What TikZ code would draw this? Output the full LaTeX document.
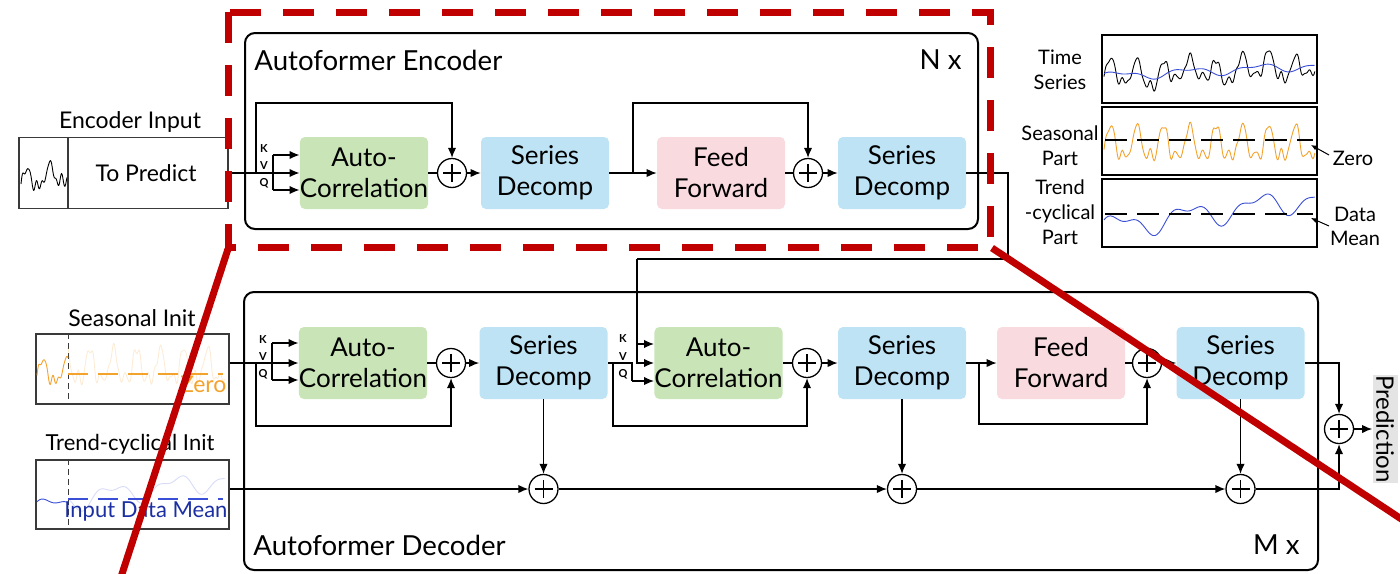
\documentclass[tikz,border=0pt]{standalone}
\usepackage{fontspec}
\setmainfont{Lato}
\usetikzlibrary{arrows.meta}
\definecolor{acgreen}{HTML}{C9E5B8}
\definecolor{sdblue}{HTML}{BDE3F5}
\definecolor{ffpink}{HTML}{F8DADF}
\definecolor{hlred}{HTML}{C00000}
\definecolor{seasorange}{HTML}{F3A22C}
\definecolor{trendblue}{HTML}{3A4FD6}
\definecolor{meanblue}{HTML}{1B2FA3}
\definecolor{predgray}{HTML}{E4E4E4}
\definecolor{boxgray}{HTML}{3A3A3A}
\begin{document}
\begin{tikzpicture}[x=0.5pt,y=-0.5pt,
  declare function={
    trendf(\t)=0.3*\t+0.1*sin(1080*\t+20)+0.05*sin(2300*\t+70)-0.15;
    seasf(\t)=0.55*sin(2880*\t)-0.25*cos(5760*\t)+0.1*sin(8640*\t+30);
    noisef(\t)=0.5*sin(9973*\t)+0.3*sin(13337*\t+40)+0.2*sin(7121*\t+10);
  },
  conn/.style={line width=0.65pt},
  arr/.style={conn,-{Latex[length=5pt,width=4.2pt]}},
  blk/.style={rounded corners=2.5pt, minimum width=64pt, minimum height=36pt,
    inner sep=0pt, align=center, font=\fontsize{13}{15.5}\selectfont},
  acblk/.style={blk, fill=acgreen},
  sdblk/.style={blk, fill=sdblue},
  ffblk/.style={blk, fill=ffpink},
  sumnode/.style={circle, draw, line width=0.65pt, minimum size=14.5pt, inner sep=0pt,
    path picture={
      \draw[line width=0.65pt] ([xshift=-4.5pt]path picture bounding box.center) -- ([xshift=4.5pt]path picture bounding box.center);
      \draw[line width=0.65pt] ([yshift=-4.5pt]path picture bounding box.center) -- ([yshift=4.5pt]path picture bounding box.center);}},
  frame/.style={draw, line width=1pt, rounded corners=5pt, inner sep=0pt},
  kvq/.style={inner sep=0pt, font=\fontsize{5.5}{6}\selectfont\bfseries},
  title/.style={inner sep=0pt, font=\fontsize{13.8}{16}\selectfont},
  lbl/.style={inner sep=0pt, align=center, font=\fontsize{11.5}{13}\selectfont},
  plbl/.style={inner sep=0pt, align=center, font=\fontsize{10}{12.4}\selectfont},
  inbox/.style={draw=boxgray, line width=0.6pt, inner sep=0pt},
  panelbox/.style={draw, line width=0.6pt, inner sep=0pt, minimum width=107.5pt, minimum height=34pt},
  refline/.style={line width=0.6pt, dash pattern=on 11pt off 5pt},
  initline/.style={line width=0.6pt, dash pattern=on 10pt off 5pt},
  series/.style={line width=0.45pt, line join=round},
  hl/.style={draw=hlred, line width=3.5pt}
]
\useasboundingbox (0,0) rectangle (1400,573);

% ---------------- Encoder ----------------
\node[frame, minimum width=366.5pt, minimum height=98pt] (encframe) at (611.5,131) {};
\node[title, anchor=west] at (254,60) {Autoformer Encoder};
\node[title, anchor=east] at (962,60) {N x};

\node[acblk] (eAC)  at (364,173) {Auto-\\Correlation};
\node[sumnode] (eP1) at (452,173) {};
\node[sdblk] (eSD1) at (545,173) {Series\\Decomp};
\node[ffblk] (eFF)  at (721,173) {Feed\\Forward};
\node[sumnode] (eP2) at (808,173) {};
\node[sdblk] (eSD2) at (902,173) {Series\\Decomp};

% encoder input
\node[inbox, minimum width=104.5pt, minimum height=35.5pt] (encin) at (123.5,173) {};
\draw[boxgray, line width=0.6pt] (encin.north -| 68,0) -- (encin.south -| 68,0);
\node[lbl] at (130,122) {Encoder Input};
\node[lbl] at (146,173) {To Predict};
\draw[series] plot[domain=0:0.25, samples=70, variable=\t]
  ({21+184*\t},{182-22*(0.8*seasf(\t)+0.3*noisef(\t)+0.4*\t/0.25)});

% K / V / Q fan-in
\coordinate (eK) at (273,155);
\coordinate (eQ) at (273,190);
\coordinate (eS1) at (256,173);
\draw[arr] (encin.east) -- (eAC.west);
\draw[conn] (eK) -- (eQ);
\draw[arr] (eK) -- (eK -| eAC.west);
\draw[arr] (eQ) -- (eQ -| eAC.west);
\node[kvq] at (264,149) {K};
\node[kvq] at (264,166) {V};
\node[kvq] at (264,183) {Q};

\draw[arr] (eS1) -- ++(0,-70) -| (eP1.north);
\draw[conn] (eAC.east) -- (eP1.west);
\draw[arr] (eP1.east) -- (eSD1.west);
\draw[arr] (eSD1.east) -- (eFF.west);
\coordinate (eS2) at (633,173);
\draw[arr] (eS2) -- ++(0,-70) -| (eP2.north);
\draw[conn] (eFF.east) -- (eP2.west);
\draw[arr] (eP2.east) -- (eSD2.west);

% ---------------- Decoder ----------------
\node[frame, minimum width=537pt, minimum height=139pt] (decframe) at (781,431) {};
\node[title, anchor=west] at (253,545) {Autoformer Decoder};
\node[title, anchor=east] at (1300,545) {M x};

\node[acblk] (dAC1) at (363,363) {Auto-\\Correlation};
\node[sumnode] (dP1) at (451,363) {};
\node[sdblk] (dSD1) at (543.5,363) {Series\\Decomp};
\node[acblk] (dAC2) at (718.5,363) {Auto-\\Correlation};
\node[sumnode] (dP2) at (807,363) {};
\node[sdblk] (dSD2) at (902,363) {Series\\Decomp};
\node[ffblk] (dFF)  at (1061,363) {Feed\\Forward};
\node[sumnode] (dP3) at (1147,363) {};
\node[sdblk] (dSD3) at (1240.5,363) {Series\\Decomp};
\node[sumnode] (outP) at (1339,429) {};
\node[sumnode] (tP1) at (543.5,489) {};
\node[sumnode] (tP2) at (902,489) {};
\node[sumnode] (tP3) at (1240.5,489) {};
\node[fill=predgray, rotate=-90, minimum width=53pt, minimum height=12.5pt, inner sep=0pt,
  font=\fontsize{12}{13}\selectfont] (pred) at (1385,429) {Prediction};

% seasonal init
\node[inbox, minimum width=96.5pt, minimum height=35pt] (sinit) at (132.5,369) {};
\node[lbl] at (132,318) {Seasonal Init};
\draw[boxgray, line width=0.5pt, dash pattern=on 3pt off 2pt] (sinit.north -| 68,0) -- (sinit.south -| 68,0);
\draw[series, seasorange] plot[domain=0:0.165, samples=50, variable=\t]
  ({37+188*\t},{373-24*(0.8*seasf(\t)+0.25*noisef(\t))});
\draw[series, seasorange, opacity=0.2] plot[domain=0.165:1, samples=200, variable=\t]
  ({37+188*\t},{368-30*(0.9*seasf(\t)+0.2*noisef(\t))});
\draw[initline, seasorange] (68,374) -- (223,374);
\node[inbox, anchor=south east, text=seasorange, font=\fontsize{11.5}{13}\selectfont, draw=none] at (227,393) {Zero};

% trend-cyclical init
\node[inbox, minimum width=96.5pt, minimum height=34.5pt] (tinit) at (132.5,494.5) {};
\node[lbl, font=\fontsize{11}{13}\selectfont] at (130,444) {Trend-cyclical Init};
\draw[boxgray, line width=0.5pt, dash pattern=on 3pt off 2pt] (tinit.north -| 68,0) -- (tinit.south -| 68,0);
\draw[series, trendblue] plot[domain=0:0.165, samples=40, variable=\t]
  ({37+188*\t},{497-70*trendf(\t)});
\draw[series, trendblue, opacity=0.2] plot[domain=0.165:1, samples=120, variable=\t]
  ({37+188*\t},{492-85*trendf(\t)});
\draw[initline, trendblue] (68,499) -- (223,499);
\node[inbox, anchor=south east, text=meanblue, font=\fontsize{11}{13}\selectfont, draw=none] at (228,522) {Input Data Mean};

% decoder connectors: first auto-correlation
\coordinate (dK1) at (272,343);
\coordinate (dQ1) at (272,380);
\coordinate (dS1) at (256,363);
\draw[arr] (sinit.east |- dAC1.west) -- (dAC1.west);
\draw[conn] (dK1) -- (dQ1);
\draw[arr] (dK1) -- (dK1 -| dAC1.west);
\draw[arr] (dQ1) -- (dQ1 -| dAC1.west);
\node[kvq] at (263,340) {K};
\node[kvq] at (263,357) {V};
\node[kvq] at (263,374) {Q};
\draw[arr] (dS1) -- ++(0,63) -| (dP1.south);
\draw[conn] (dAC1.east) -- (dP1.west);
\draw[arr] (dP1.east) -- (dSD1.west);

% encoder output feeds K and V of the cross auto-correlation
\coordinate (eDown) at (1008,259);
\coordinate (dKV) at (637,259);
\coordinate (dK2) at (637,344);
\coordinate (dQ2) at (632,381);
\coordinate (dS2) at (613,363);
\draw[conn] (eSD2.east) -| (eDown) -- (dKV);
\draw[arr] (dKV) |- (dAC2.west);
\draw[arr] (dK2) -- (dK2 -| dAC2.west);
\draw[conn] (dSD1.east) -| (dQ2);
\draw[arr] (dQ2) -- (dQ2 -| dAC2.west);
\node[kvq] at (623,339) {K};
\node[kvq] at (623,357) {V};
\node[kvq] at (623,374) {Q};
\draw[arr] (dS2) -- ++(0,63) -| (dP2.south);
\draw[conn] (dAC2.east) -- (dP2.west);
\draw[arr] (dP2.east) -- (dSD2.west);

% feed forward
\coordinate (dS3) at (979,363);
\draw[arr] (dSD2.east) -- (dFF.west);
\draw[arr] (dS3) -- ++(0,61) -| (dP3.south);
\draw[conn] (dFF.east) -- (dP3.west);
\draw[arr] (dP3.east) -- (dSD3.west);

% trend accumulation and output
\draw[arr] (dSD1.south) -- (tP1.north);
\draw[arr] (dSD2.south) -- (tP2.north);
\draw[arr] (dSD3.south) -- (tP3.north);
\draw[arr] (tinit.east |- tP1.west) -- (tP1.west);
\draw[arr] (tP1.east) -- (tP2.west);
\draw[arr] (tP2.east) -- (tP3.west);
\draw[arr] (tP3.east) -| (outP.south);
\draw[arr] (dSD3.east) -| (outP.north);
\draw[arr] (outP.east) -- (pred.south);

% ---------------- Decomposition legend ----------------
\node[panelbox] (tsbox) at (1209.5,69) {};
\node[panelbox] (seasbox) at (1209.5,141) {};
\node[panelbox] (trendbox) at (1209.5,213) {};
\node[plbl] at (1060,69.5) {Time\\Series};
\node[plbl] at (1060,145.5) {Seasonal\\Part};
\node[plbl] at (1060,212.5) {Trend\\-cyclical\\Part};
\draw[series] plot[domain=0:1, samples=220, variable=\t]
  ({1104+211*\t},{71-36*(trendf(\t)+0.55*seasf(\t)+0.1*noisef(\t))});
\draw[series, trendblue] plot[domain=0:1, samples=100, variable=\t]
  ({1104+211*\t},{71-36*trendf(\t)});
\draw[series, seasorange] plot[domain=0:1, samples=220, variable=\t]
  ({1104+211*\t},{145-32*(0.85*seasf(\t)+0.12*noisef(\t))});
\draw[refline] (1105,140) -- (1313,140);
\draw[series, trendblue] plot[domain=0:1, samples=100, variable=\t]
  ({1104+211*\t},{213-100*trendf(\t)});
\draw[refline] (1105,214) -- (1313,214);
\node[plbl] (zerolbl) at (1353,158) {Zero};
\node[plbl] (meanlbl) at (1355,226.5) {Data\\Mean};
\draw[line width=0.5pt, -{Latex[length=3pt,width=2.6pt]}] (1329,155) -- (1311,145);
\draw[line width=0.5pt, -{Latex[length=3pt,width=2.6pt]}] (1329,226) -- (1311,218);

% ---------------- Highlight ----------------
\draw[hl, dash pattern=on 15.5pt off 11pt] (228,12) rectangle (990,247);
\draw[hl] (228,249) -- (120,580);
\draw[hl] (992,248) -- (1430,538);
\end{tikzpicture}
\end{document}
